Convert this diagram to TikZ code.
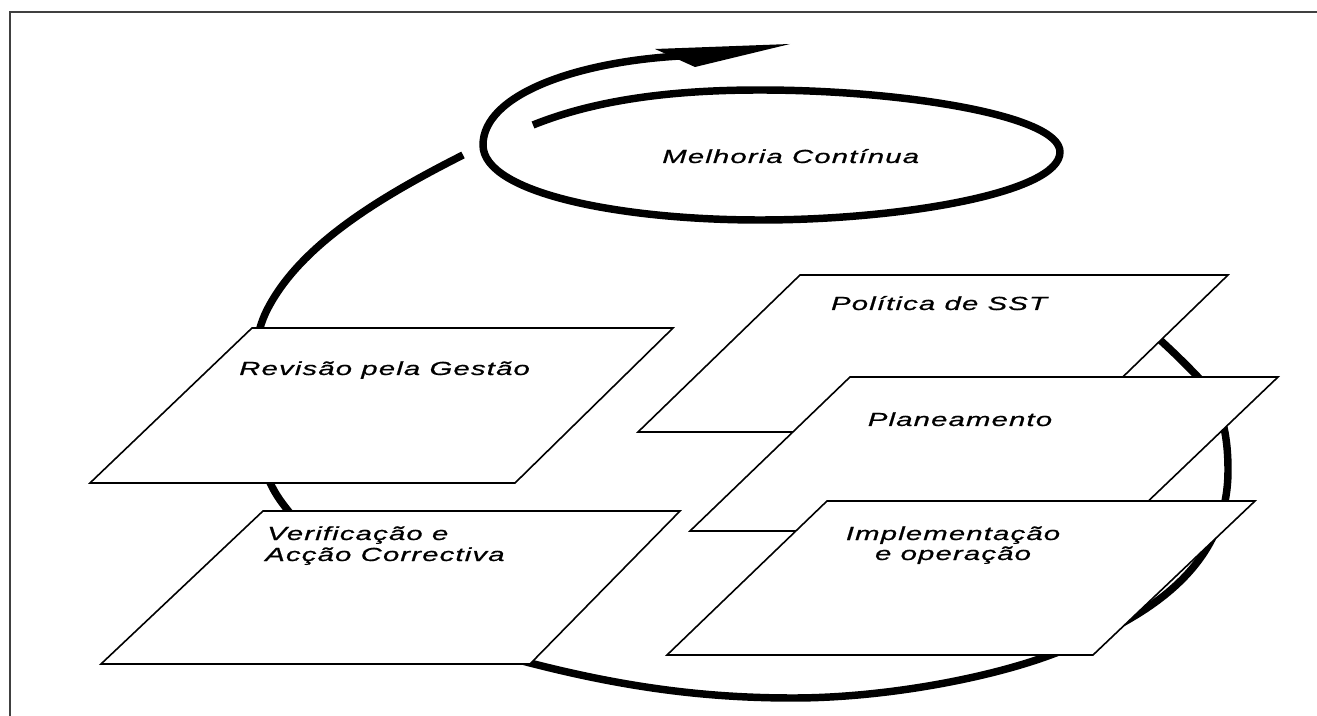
\documentclass[tikz,border=0pt]{standalone}
\usepackage{fontspec}
\setmainfont{Liberation Sans}[FakeStretch=1.55,LetterSpace=6,FakeBold=0.8]
\begin{document}
\begin{tikzpicture}[x=0.75pt,y=-0.75pt]
\tikzset{
  loopline/.style={line width=5.6pt, line cap=butt, line join=round},
  card/.style={draw=black, fill=white, line width=1.2pt, line join=miter},
  lbl/.style={inner sep=0pt, font=\fontsize{14.2}{16}\selectfont\itshape},
  frameline/.style={draw=black!75, line width=1pt}
}
\useasboundingbox (0,0) rectangle (1317,716);
% frame
\draw[frameline] (10,716) -- (10,12) -- (1317,12);
% big cycle arc
\draw[loopline] (463,155) .. controls (380,197) and (300,245) .. (267,310)
  .. controls (245,353) and (245,450) .. (280,500)
  .. controls (330,570) and (440,640) .. (530,663)
  .. controls (620,686) and (700,698) .. (793,698)
  .. controls (880,698) and (980,680) .. (1045,657)
  .. controls (1160,616) and (1228,560) .. (1228,470)
  .. controls (1228,420) and (1215,395) .. (1197,376)
  .. controls (1175,353) and (1150,330) .. (1125,310);
% continual improvement spiral
\draw[loopline] (533,125) .. controls (600,98) and (680,90) .. (760,90)
  .. controls (900,90) and (1060,115) .. (1060,152)
  .. controls (1060,193) and (900,220) .. (760,220)
  .. controls (620,220) and (483,193) .. (483,145)
  .. controls (483,95) and (575,62) .. (680,56);
\fill (655,49) -- (695,67) -- (790,44) -- cycle;
% cards
\path[card] (252,328) -- (673,328) -- (515,483) -- (90,483) -- cycle;
\path[card] (263,511) -- (680,511) -- (530,664) -- (101,664) -- cycle;
\path[card] (800,275) -- (1228,275) -- (1066,432) -- (638,432) -- cycle;
\path[card] (850,377) -- (1278,377) -- (1117,531) -- (690,531) -- cycle;
\path[card] (827,501) -- (1255,501) -- (1093,655) -- (667,655) -- cycle;
% labels
\node[lbl, anchor=base west] (mel) at (662,163) {Melhoria Contínua};
\node[lbl, anchor=base west] (rev) at (239,375) {Revisão pela Gestão};
\node[lbl, anchor=base west] (ver1) at (267,540) {Verificação e};
\node[lbl, anchor=base west] (ver2) at (265,561) {Acção Correctiva};
\node[lbl, anchor=base] (pol) at (939,310) {Política de SST};
\node[lbl, anchor=base] (pla) at (960,426) {Planeamento};
\node[lbl, anchor=base] (imp1) at (953,540) {Implementação};
\node[lbl, anchor=base] (imp2) at (953,560) {e operação};
\end{tikzpicture}
\end{document}
